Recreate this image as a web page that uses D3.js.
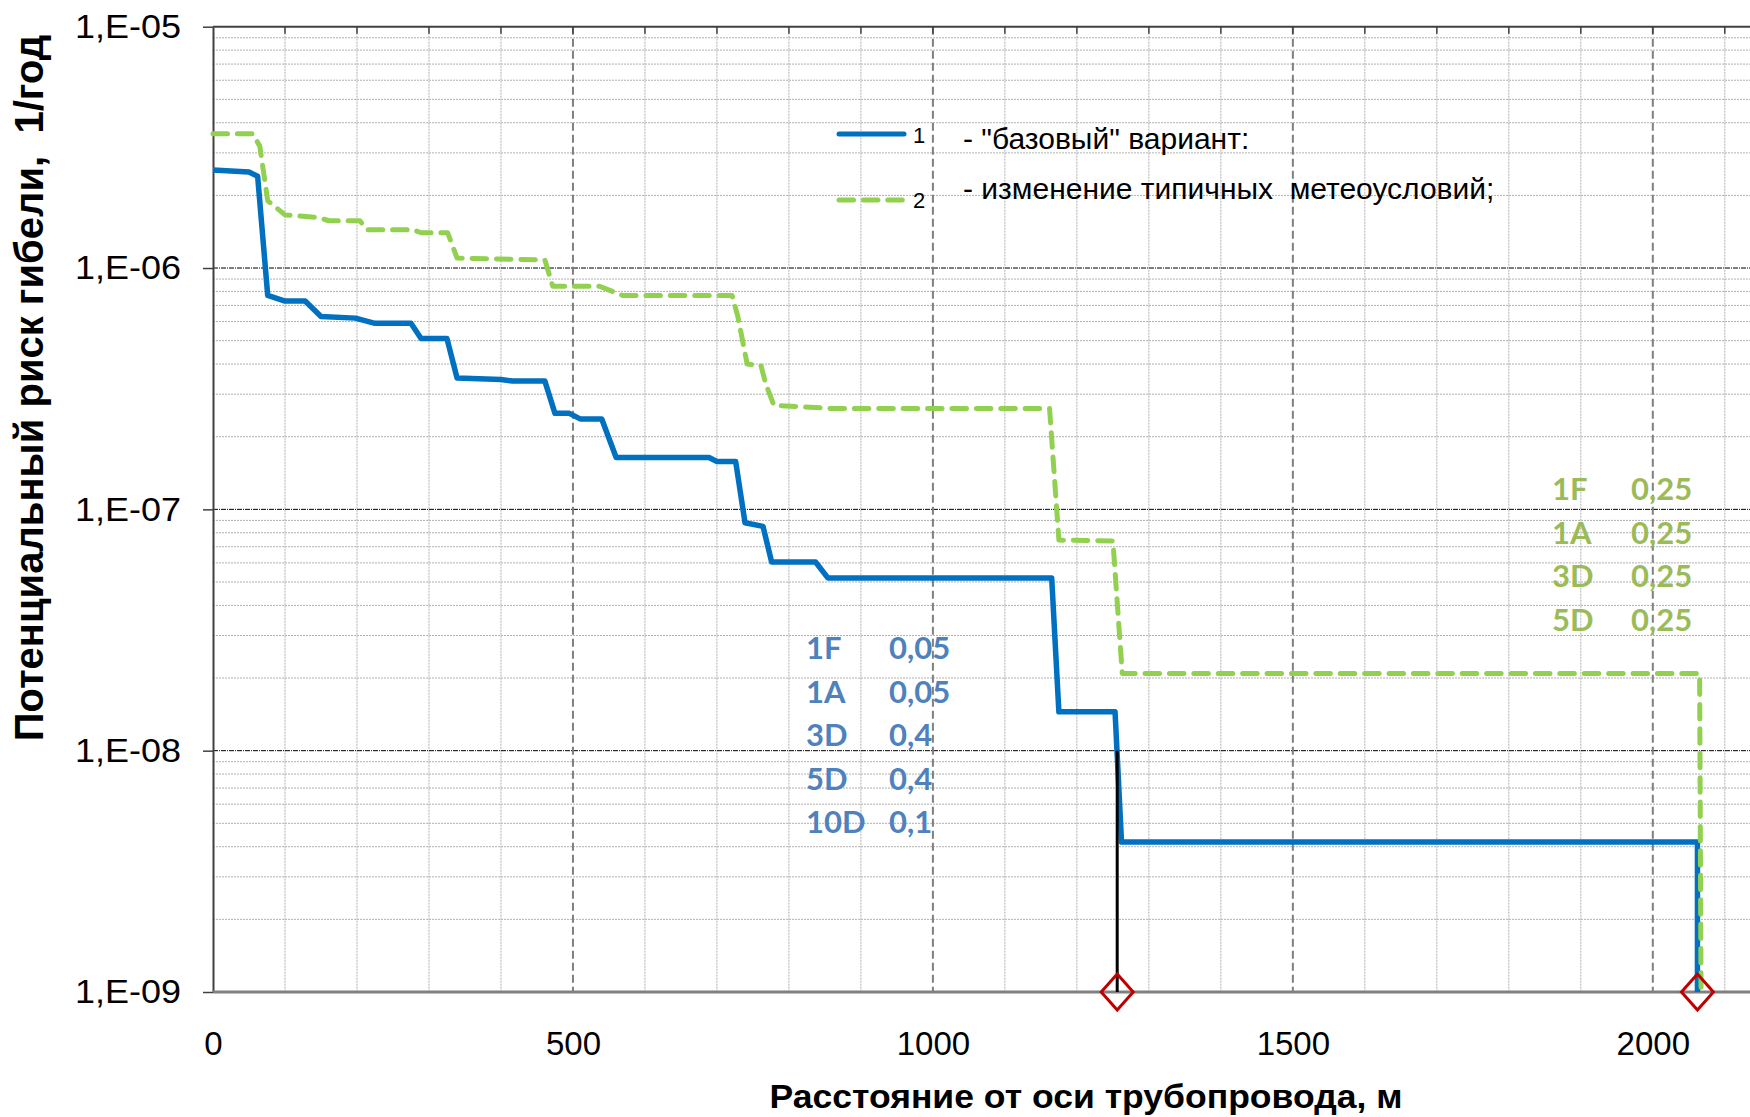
<!DOCTYPE html>
<html>
<head>
<meta charset="utf-8">
<script src="https://cdn.jsdelivr.net/npm/d3@7"></script>
<style>
  body { margin: 0; background: #fff; }
  svg text { font-family: Arial, "Liberation Sans", sans-serif; }
</style>
</head>
<body>
<div id="chart"></div>
<script>
// Series 1: "базовый" вариант (distance, m / risk, 1/год)
const baseDist = [0, 50, 62, 76, 100, 128, 150, 198, 225, 275, 289, 325, 339, 400, 416, 461, 475, 495, 510, 540, 560,
    689, 700, 726, 739, 764, 776, 837, 854, 1165, 1175, 1253, 1262, 2062, 2062];
const baseRisk = [2.55e-6, 2.5e-6, 2.4e-6, 7.7e-7, 7.3e-7, 7.3e-7, 6.3e-7, 6.2e-7, 5.9e-7, 5.9e-7, 5.1e-7, 5.1e-7, 3.5e-7,
    3.45e-7, 3.4e-7, 3.4e-7, 2.5e-7, 2.5e-7, 2.37e-7, 2.37e-7, 1.64e-7,
    1.64e-7, 1.58e-7, 1.58e-7, 8.8e-8, 8.5e-8, 6.05e-8, 6.05e-8, 5.2e-8, 5.2e-8, 1.45e-8, 1.45e-8, 4.18e-9, 4.18e-9, 1e-9];

// Series 2: изменение типичных метеоусловий
const meteoDist = [0, 55, 65, 76, 100, 146, 161, 204, 214, 278, 289, 326, 339, 395, 461, 472, 537, 569, 721, 729, 742,
    761, 768, 779, 857, 1162, 1175, 1250, 1263, 2065, 2067];
const meteoRisk = [3.6e-6, 3.6e-6, 3.2e-6, 1.9e-6, 1.66e-6, 1.62e-6, 1.57e-6, 1.57e-6, 1.44e-6, 1.44e-6, 1.4e-6, 1.4e-6,
    1.1e-6, 1.09e-6, 1.08e-6, 8.4e-7, 8.4e-7, 7.7e-7, 7.7e-7, 6.3e-7, 4.0e-7,
    3.95e-7, 3.3e-7, 2.7e-7, 2.62e-7, 2.62e-7, 7.46e-8, 7.4e-8, 2.09e-8, 2.09e-8, 1e-9];

// red diamond markers and the black drop line
const markerDist = [1256, 2062];
const dropDist = [1256];
const dropRisk = [1e-8];

const xTicks = [0, 500, 1000, 1500, 2000];
const yTicks = [1e-9, 1e-8, 1e-7, 1e-6, 1e-5];

const legendLabels = ["- \"базовый\" вариант:", "- изменение типичных  метеоусловий;"];
const blueClasses = ["1F", "1A", "3D", "5D", "10D"];
const blueShares = ["0,05", "0,05", "0,4", "0,4", "0,1"];
const greenClasses = ["1F", "1A", "3D", "5D"];
const greenShares = ["0,25", "0,25", "0,25", "0,25"];

const width = 1750, height = 1117;
const plotLeft = 213, plotRight = 1750, plotTop = 26.7, plotBottom = 992;

const svg = d3.select("#chart").append("svg")
    .attr("width", width)
    .attr("height", height);

const x = d3.scaleLinear().domain([0, 2135]).range([plotLeft, plotRight]);
const y = d3.scaleLog().domain([1e-9, 1e-5]).range([plotBottom, plotTop]);

// minor horizontal grid (2..9 per decade)
const minorY = [];
for (let e = -9; e < -5; e++) {
    for (let k = 2; k <= 9; k++) minorY.push(k * Math.pow(10, e));
}
svg.append("g").selectAll("line")
    .data(minorY)
    .join("line")
    .attr("x1", plotLeft).attr("x2", plotRight)
    .attr("y1", d => y(d)).attr("y2", d => y(d))
    .attr("stroke", "#b0b0b0")
    .attr("stroke-width", 1)
    .attr("stroke-dasharray", "2 1");

// minor vertical grid every 100 m
const minorX = d3.range(100, 2135, 100).filter(d => d % 500 !== 0);
svg.append("g").selectAll("line")
    .data(minorX)
    .join("line")
    .attr("x1", d => x(d)).attr("x2", d => x(d))
    .attr("y1", plotTop).attr("y2", plotBottom)
    .attr("stroke", "#b0b0b0")
    .attr("stroke-width", 1)
    .attr("stroke-dasharray", "2 1");

// major horizontal grid (decades)
svg.append("g").selectAll("line")
    .data([1e-8, 1e-7, 1e-6])
    .join("line")
    .attr("x1", plotLeft).attr("x2", plotRight)
    .attr("y1", d => y(d)).attr("y2", d => y(d))
    .attr("stroke", "#000")
    .attr("stroke-width", 1)
    .attr("stroke-dasharray", "5 1 1 1");

// major vertical grid every 500 m
svg.append("g").selectAll("line")
    .data([500, 1000, 1500, 2000])
    .join("line")
    .attr("x1", d => x(d)).attr("x2", d => x(d))
    .attr("y1", plotTop).attr("y2", plotBottom)
    .attr("stroke", "#808080")
    .attr("stroke-width", 2)
    .attr("stroke-dasharray", "8 4");

// top frame with small ticks
svg.append("line")
    .attr("x1", plotLeft).attr("x2", plotRight)
    .attr("y1", plotTop).attr("y2", plotTop)
    .attr("stroke", "#404040").attr("stroke-width", 2);
svg.append("g").selectAll("line")
    .data(d3.range(100, 2135, 100))
    .join("line")
    .attr("x1", d => x(d)).attr("x2", d => x(d))
    .attr("y1", plotTop).attr("y2", plotTop + 7)
    .attr("stroke", "#404040").attr("stroke-width", 1.5);

// y axis
const yAxis = svg.append("g")
    .attr("transform", `translate(${plotLeft},0)`)
    .call(d3.axisLeft(y)
        .tickValues(yTicks)
        .tickSize(10)
        .tickSizeOuter(0)
        .tickPadding(22)
        .tickFormat(d => "1,E-" + String(-Math.round(Math.log10(d))).padStart(2, "0")));
yAxis.select(".domain").attr("stroke", "#404040").attr("stroke-width", 2);
yAxis.selectAll(".tick line").attr("stroke", "#404040").attr("stroke-width", 1.5);
yAxis.selectAll(".tick text")
    .attr("font-size", 33)
    .attr("fill", "#000")
    .attr("dy", "0.33em")
    .attr("textLength", 106)
    .attr("lengthAdjust", "spacingAndGlyphs");

// x axis
const xAxis = svg.append("g")
    .attr("transform", `translate(0,${plotBottom})`)
    .call(d3.axisBottom(x).tickValues(xTicks).tickSize(0).tickSizeOuter(0).tickFormat(d3.format("d")));
xAxis.select(".domain").remove();
xAxis.selectAll(".tick text")
    .attr("font-size", 33)
    .attr("fill", "#000")
    .attr("y", 63)
    .attr("dy", 0);
svg.append("line")
    .attr("x1", plotLeft).attr("x2", plotRight)
    .attr("y1", plotBottom).attr("y2", plotBottom)
    .attr("stroke", "#808080").attr("stroke-width", 3);

// series lines
const line = d3.line()
    .x(d => x(d[0]))
    .y(d => y(d[1]));

const baseData = d3.zip(baseDist, baseRisk);
const meteoData = d3.zip(meteoDist, meteoRisk);

svg.append("path")
    .datum(baseData)
    .attr("d", line)
    .attr("fill", "none")
    .attr("stroke", "#0070c0")
    .attr("stroke-width", 5.5)
    .attr("stroke-linejoin", "round");

svg.append("path")
    .datum(meteoData)
    .attr("d", line)
    .attr("fill", "none")
    .attr("stroke", "#92d050")
    .attr("stroke-width", 5)
    .attr("stroke-linejoin", "round")
    .attr("stroke-linecap", "round")
    .attr("stroke-dasharray", "14.5 9.9");

// black drop line
svg.append("g").selectAll("line")
    .data(d3.zip(dropDist, dropRisk))
    .join("line")
    .attr("x1", d => x(d[0])).attr("x2", d => x(d[0]))
    .attr("y1", d => y(d[1])).attr("y2", y(1e-9))
    .attr("stroke", "#000")
    .attr("stroke-width", 3);

// red diamonds
svg.append("g").selectAll("path")
    .data(markerDist)
    .join("path")
    .attr("d", d => {
        const cx = x(d), cy = y(1e-9);
        return `M${cx},${cy - 18}L${cx + 16},${cy}L${cx},${cy + 18}L${cx - 16},${cy}Z`;
    })
    .attr("fill", "none")
    .attr("stroke", "#c00000")
    .attr("stroke-width", 3);

// legend
const legend = svg.append("g");
const legendRows = [
    { color: "#0070c0", dash: null, num: "1", lineY: 134, numY: 143, textY: 149 },
    { color: "#92d050", dash: "14.5 9.9", num: "2", lineY: 200, numY: 208, textY: 199 }
];
legendRows.forEach((r, i) => {
    legend.append("line")
        .attr("x1", 839).attr("x2", 904)
        .attr("y1", r.lineY).attr("y2", r.lineY)
        .attr("stroke", r.color)
        .attr("stroke-width", 5)
        .attr("stroke-linecap", "round")
        .attr("stroke-dasharray", r.dash);
    legend.append("text")
        .attr("x", 913).attr("y", r.numY)
        .attr("font-size", 22)
        .text(r.num);
    legend.append("text")
        .attr("x", 963).attr("y", r.textY)
        .attr("font-size", 30)
        .style("white-space", "pre")
        .text(legendLabels[i]);
});

// weather class annotations
function notes(classes, shares, color, x0, x1, y0) {
    const g = svg.append("g")
        .attr("fill", color)
        .attr("font-size", 31)
        .attr("font-weight", "bold");
    classes.forEach((c, i) => {
        g.append("text").attr("x", x0).attr("y", y0 + i * 43.5)
            .style("font-family", "Lato, 'Open Sans', sans-serif").text(c);
        g.append("text").attr("x", x1).attr("y", y0 + i * 43.5)
            .style("font-family", "Lato, 'Open Sans', sans-serif").text(shares[i]);
    });
}
notes(blueClasses, blueShares, "#4f81bd", 806, 889, 659);
notes(greenClasses, greenShares, "#9bbb59", 1552, 1631, 500);

// axis titles
svg.append("text")
    .attr("x", 1086).attr("y", 1108)
    .attr("text-anchor", "middle")
    .attr("font-size", 33)
    .attr("font-weight", "bold")
    .attr("textLength", 633)
    .attr("lengthAdjust", "spacingAndGlyphs")
    .text("Расстояние от оси трубопровода, м");

svg.append("text")
    .attr("transform", "translate(43,388) rotate(-90)")
    .attr("text-anchor", "middle")
    .attr("font-size", 40)
    .attr("font-weight", "bold")
    .style("white-space", "pre")
    .text("Потенциальный риск гибели,  1/год");
</script>
</body>
</html>
